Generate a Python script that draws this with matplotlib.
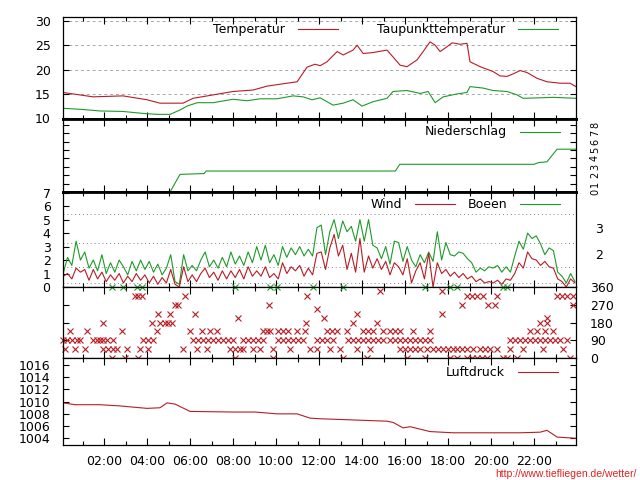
import numpy as np
import matplotlib.pyplot as plt
from matplotlib.lines import Line2D
from matplotlib.ticker import MultipleLocator, FuncFormatter

plt.rcParams['font.family'] = 'DejaVu Sans'
plt.rcParams['font.size'] = 9

RED = "#b81c24"
GREEN = "#1f9a2a"

# Temperatur / Taupunkt (Stunde, Grad C)
temp_h = [0.09, 1.49, 2.88, 4.00, 4.60, 5.67, 6.14, 7.07, 8.00, 8.93, 9.58, 10.51, 10.98,
          11.44, 11.81, 12.05, 12.37, 12.84, 13.12, 13.58, 13.77, 14.05, 14.51, 15.16, 15.30,
          15.77, 16.09, 16.56, 16.84, 17.16, 17.40, 17.63, 17.95, 18.19, 18.56, 18.88, 19.02,
          19.49, 20.09, 20.42, 20.74, 21.02, 21.35, 21.67, 22.14, 22.60, 23.21, 23.67, 23.95]
temp = [15.3, 14.4, 14.6, 13.8, 13.1, 13.1, 14.1, 14.8, 15.5, 15.8, 16.6, 17.2, 17.5,
        20.5, 21.1, 20.8, 21.6, 23.7, 23.0, 24.0, 25.0, 23.3, 23.5, 24.0, 23.3,
        20.9, 20.6, 22.0, 23.7, 25.7, 25.0, 23.7, 24.7, 25.5, 25.2, 25.4, 21.6,
        20.6, 19.6, 18.7, 18.6, 19.1, 19.8, 19.4, 18.2, 17.5, 17.2, 17.2, 16.5]
dew_h = [0.09, 1.02, 1.81, 2.88, 3.81, 4.47, 5.07, 5.53, 5.86, 6.33, 7.07, 8.00, 8.65, 9.26,
         10.05, 10.79, 11.26, 11.67, 12.05, 12.65, 13.12, 13.58, 14.00, 14.51, 15.16, 15.44,
         16.09, 16.70, 17.07, 17.40, 17.77, 18.42, 18.88, 19.02, 19.63, 20.09, 20.74, 21.21,
         21.49, 22.28, 22.88, 23.95]
dew = [12.05, 11.8, 11.5, 11.4, 11.0, 10.8, 10.8, 11.7, 12.5, 13.2, 13.2, 13.9, 13.6, 14.0,
       14.0, 14.6, 14.4, 13.8, 14.2, 12.7, 13.1, 13.8, 12.5, 13.4, 14.1, 15.5,
       15.7, 15.1, 15.5, 13.2, 14.4, 15.0, 15.3, 16.5, 16.2, 15.7, 15.5, 14.8,
       14.1, 14.2, 14.3, 14.1]

# Niederschlag
rain_h = [0.09, 5.07, 5.53, 6.65, 6.75, 15.55, 15.75, 22.0, 22.2, 22.6, 23.07, 23.95]
rain = [0.0, 0.0, 2.1, 2.2, 2.5, 2.5, 3.3, 3.3, 3.5, 3.6, 5.1, 5.1]

# Wind / Boeen (m/s), Messwerte alle 12 min
wind_h = np.linspace(0.1, 23.9, 120)
gust = [1.0, 2.2, 1.6, 3.4, 2.0, 2.6, 1.4, 2.0, 1.2, 2.4,
        1.0, 1.8, 1.1, 2.0, 1.5, 0.9, 1.9, 1.2, 2.0, 1.3,
        1.9, 1.1, 1.7, 0.9, 1.4, 2.4, 0.4, 0.2, 2.4, 1.2,
        1.6, 1.2, 2.0, 2.6, 1.5, 2.0, 1.4, 2.2, 1.5, 2.6,
        1.7, 2.3, 1.6, 2.6, 1.8, 3.0, 2.0, 3.1, 1.8, 2.4,
        1.6, 3.0, 2.2, 2.9, 2.4, 3.0, 2.3, 2.8, 2.3, 4.4,
        4.6, 2.4, 4.1, 5.0, 3.6, 4.9, 4.1, 4.5, 3.4, 5.0,
        3.4, 5.0, 3.1, 2.9, 2.1, 3.0, 1.7, 3.4, 3.3, 1.9,
        3.0, 2.0, 1.5, 2.4, 1.8, 2.6, 1.9, 4.1, 2.0, 3.3,
        2.4, 2.3, 2.6, 2.5, 2.1, 1.8, 1.1, 1.4, 1.2, 1.5,
        1.4, 1.6, 1.1, 1.5, 1.1, 2.3, 3.4, 2.8, 4.0, 3.6,
        3.8, 3.2, 2.4, 2.9, 2.7, 1.1, 0.8, 0.3, 1.0, 0.4]
wind = [0.8, 1.0, 0.6, 1.4, 1.1, 1.3, 0.5, 1.3, 0.6, 1.1,
        0.4, 0.9, 0.5, 1.0, 0.3, 0.8, 0.4, 1.0, 0.5, 0.9,
        0.3, 0.8, 0.2, 0.7, 0.3, 1.3, 0.2, 0.0, 1.5, 0.4,
        0.9, 0.4, 1.0, 1.4, 0.7, 1.1, 0.5, 1.2, 0.6, 1.2,
        0.7, 1.3, 0.6, 1.5, 0.8, 1.2, 0.8, 1.5, 0.7, 1.0,
        0.6, 1.8, 1.0, 1.5, 1.2, 1.6, 0.8, 1.4, 0.9, 2.5,
        2.6, 1.3, 2.9, 3.9, 2.3, 3.1, 1.3, 2.5, 1.1, 3.6,
        1.1, 2.3, 1.4, 2.1, 1.3, 1.9, 0.9, 1.8, 1.5, 0.9,
        2.1, 0.3, 1.2, 1.8, 0.6, 2.5, 0.0, 1.8, 1.0, 1.3,
        0.8, 1.1, 0.7, 1.0, 0.6, 0.8, 0.4, 0.6, 0.3, 0.4,
        0.3, 0.5, 0.2, 0.6, 0.5, 1.0, 1.8, 1.4, 2.6, 2.1,
        2.0, 1.6, 1.9, 1.5, 1.4, 0.6, 0.4, 0.0, 0.6, 0.3]
bft_limits = [0.3, 1.5, 3.3, 5.4]
bft_pos = [2.45, 4.4]
bft_labels = ["2", "3"]

# Windrichtung: Zeitpunkte je Richtung (Grad)
dir_0 = [2.37, 2.98, 3.58, 8.09, 9.86, 13.12, 14.23, 16.09, 16.93, 18.09, 18.42, 18.88,
         19.12, 19.35, 19.58, 19.81, 20.56, 20.74, 21.21, 23.67]
dir_45 = [0.19, 0.65, 1.12, 1.95, 2.19, 2.42, 2.60, 3.07, 3.67, 4.05, 5.67, 6.33, 6.79,
          7.86, 8.09, 8.33, 8.47, 8.93, 9.26, 9.86, 10.65, 11.58, 11.91, 12.51, 12.98,
          13.77, 14.37, 15.77, 16.00, 16.23, 16.47, 16.70, 17.02, 17.30, 17.53, 17.77,
          18.00, 18.23, 18.42, 18.65, 18.88, 19.16, 19.49, 19.72, 19.95, 20.28, 20.88,
          21.49, 22.42, 23.35]
dir_90 = [0.09, 0.28, 0.51, 0.74, 0.88, 1.49, 1.67, 1.81, 1.95, 2.14, 2.42, 3.81, 4.05,
          4.28, 6.14, 6.37, 6.60, 6.84, 7.07, 7.30, 7.53, 7.77, 8.00, 8.47, 8.70, 8.93,
          9.16, 9.40, 10.09, 10.33, 10.56, 10.79, 11.02, 11.26, 11.91, 12.14, 12.37, 12.65,
          13.35, 13.58, 13.81, 14.05, 14.28, 14.51, 14.74, 14.98, 15.30, 15.53, 15.77,
          16.00, 16.23, 16.47, 16.70, 16.93, 17.16, 20.88, 21.12, 21.35, 21.58, 21.81,
          22.05, 22.28, 22.51, 22.74, 22.98, 23.21, 23.53]
dir_135 = [0.42, 1.21, 2.84, 4.47, 6.00, 6.56, 6.93, 7.26, 9.40, 9.58, 9.72, 10.09, 10.33,
           10.56, 10.98, 11.35, 12.37, 12.60, 12.84, 13.30, 14.05, 14.28, 14.51, 14.98,
           15.30, 15.53, 15.77, 16.37, 17.16, 21.81, 22.14, 22.51, 22.88]
dir_180 = [1.95, 4.23, 4.60, 4.84, 4.98, 5.16, 11.40, 13.58, 14.70, 22.28, 22.60]
dir_202 = [8.23, 12.23, 22.60]
dir_225 = [4.51, 5.07, 6.23, 13.77, 17.72]
dir_247 = [11.91]
dir_270 = [5.30, 5.44, 9.67, 18.65, 19.86, 20.19, 23.81]
dir_315 = [3.44, 3.58, 3.77, 5.77, 11.44, 18.88, 19.12, 19.35, 19.63, 20.28, 23.07,
           23.30, 23.53, 23.81]
dir_337 = [14.84, 17.72]
dir_360_green = [2.37, 2.88, 3.53, 3.77, 8.09, 9.72, 10.05, 11.72, 13.12, 16.93, 18.09,
                 18.42, 20.56, 20.74]

# Luftdruck (hPa)
press_h = [0.09, 0.65, 1.81, 2.74, 4.00, 4.60, 4.93, 5.30, 6.00, 8.00, 9.02, 10.05, 10.98,
           11.58, 12.05, 15.16, 15.44, 15.91, 16.23, 17.16, 18.23, 21.35, 22.28, 22.60,
           23.07, 23.95]
press = [1009.8, 1009.5, 1009.5, 1009.3, 1008.9, 1009.0, 1009.8, 1009.6, 1008.4, 1008.3,
         1008.3, 1008.0, 1008.0, 1007.3, 1007.2, 1006.8, 1006.6, 1005.7, 1005.9, 1005.1,
         1004.9, 1004.9, 1005.0, 1005.3, 1004.2, 1004.0]

fig = plt.figure(figsize=(6.4, 4.8), dpi=100)
L, R = 63, 576


def panel(top, bottom):
    return fig.add_axes([L / 640, 1 - bottom / 480, (R - L) / 640, (bottom - top) / 480])


def key(label, right, y, color):
    yy = 1 - y / 480
    fig.text(right / 640, yy, label, ha='right', va='center', fontsize=9)
    fig.add_artist(Line2D([(right + 13) / 640, (right + 53) / 640], [yy, yy],
                          color=color, lw=0.8))


ax1 = panel(17, 119)
ax2 = panel(119, 192)
ax3 = panel(192, 287)
ax4 = panel(287, 358)
ax5 = panel(358, 445)

for ax in [ax1, ax2, ax3, ax4, ax5]:
    ax.set_xlim(0.09, 23.95)
    ax.xaxis.set_major_locator(MultipleLocator(2))
    ax.xaxis.set_minor_locator(MultipleLocator(1))
    ax.tick_params(axis='x', which='both', direction='in', top=True, bottom=True,
                   labelbottom=False)
    ax.tick_params(axis='x', which='major', length=5, width=0.8)
    ax.tick_params(axis='x', which='minor', length=3, width=0.8)
    ax.tick_params(axis='y', which='both', direction='in', left=True, right=True,
                   length=4, width=0.8, pad=9)
    for s in ax.spines.values():
        s.set_linewidth(0.9)

# Temperatur
ax1.plot(temp_h, temp, color=RED, lw=0.8)
ax1.plot(dew_h, dew, color=GREEN, lw=0.8)
ax1.set_ylim(9.85, 30.8)
ax1.set_yticks([10, 15, 20, 25, 30])
for v in [15, 20, 25, 30]:
    ax1.axhline(v, color='#a8a8a8', lw=0.7, ls=(0, (3, 3)), zorder=0)
ax1.spines['bottom'].set_linewidth(2)

# Niederschlag
ax2.plot(rain_h, rain, color=GREEN, lw=0.8)
ax2.set_ylim(0, 8.7)
ax2.set_yticks(range(9))
ax2.tick_params(axis='y', labelleft=False, labelright=True, labelsize=7, pad=10)
for t in ax2.get_yticklabels():
    t.set_rotation(90)
    t.set_va('center')
ax2.spines['top'].set_linewidth(2)
ax2.spines['bottom'].set_linewidth(2)

# Wind
ax3.plot(wind_h, gust, color=GREEN, lw=0.8)
ax3.plot(wind_h, wind, color=RED, lw=0.8)
ax3.set_ylim(0, 7.05)
ax3.set_yticks(range(8))
for v in bft_limits:
    ax3.axhline(v, color='#808080', lw=0.7, ls=(0, (1, 3)), zorder=0)
ax3.spines['top'].set_linewidth(2)
ax3r = ax3.twinx()
ax3r.set_ylim(0, 7.05)
ax3r.set_yticks(bft_pos)
ax3r.set_yticklabels(bft_labels)
ax3r.tick_params(axis='y', length=0, pad=14)
ax3r.set_frame_on(False)

# Windrichtung
groups = [(dir_0, 0), (dir_45, 45), (dir_90, 90), (dir_135, 135), (dir_180, 180),
          (dir_202, 202.5), (dir_225, 225), (dir_247, 247.5), (dir_270, 270),
          (dir_315, 315), (dir_337, 337.5)]
for hours, deg in groups:
    ax4.plot(hours, [deg] * len(hours), 'x', color=RED, ms=5, mew=0.8, clip_on=False)
ax4.plot(dir_360_green, [360] * len(dir_360_green), 'x', color=GREEN, ms=5, mew=0.8,
         clip_on=False)
ax4.set_ylim(0, 360)
ax4.set_yticks([0, 90, 180, 270, 360])
ax4.tick_params(axis='y', labelleft=False, labelright=True, pad=10)

# Luftdruck
ax5.plot(press_h, press, color=RED, lw=0.8)
ax5.set_ylim(1002.9, 1017.15)
ax5.set_yticks(range(1004, 1017, 2))
ax5.tick_params(axis='x', labelbottom=True, pad=7)
ax5.xaxis.set_major_formatter(FuncFormatter(lambda v, p: f"{int(round(v)):02d}:00"))

key("Temperatur", 285, 29, RED)
key("Taupunkttemperatur", 505, 29, GREEN)
key("Niederschlag", 507, 132, GREEN)
key("Wind", 402, 204, RED)
key("Boeen", 507, 204, GREEN)
key("Luftdruck", 505, 372, RED)

fig.text(637 / 640, 1 - 474 / 480, "http://www.tiefliegen.de/wetter/", ha='right',
         va='center', color='#e02020', fontsize=7.5, family='Liberation Sans')

fig.savefig("out.png", dpi=100)
